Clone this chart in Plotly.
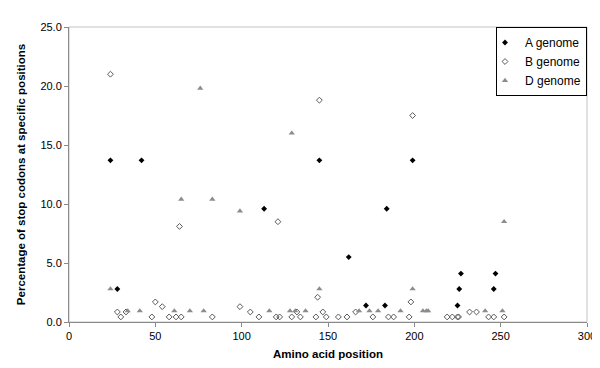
import plotly.graph_objects as go

# A genome
a_x = [24, 28, 42, 113, 145, 162, 172, 183, 184, 199, 225, 226, 227, 246, 247]
a_y = [13.7, 2.8, 13.7, 9.6, 13.7, 5.5, 1.4, 1.4, 9.6, 13.7, 1.4, 2.8, 4.1, 2.8, 4.1]

# B genome
b_x = [24, 28, 30, 33, 48, 50, 54, 58, 62, 64, 65, 83, 99, 105, 110, 120, 121, 122,
       129, 132, 134, 143, 144, 145, 147, 149, 156, 161, 166, 176, 185, 188, 197, 198,
       199, 219, 222, 225, 225.6, 232, 236, 243, 246, 252]
b_y = [21.0, 0.85, 0.43, 0.85, 0.43, 1.7, 1.3, 0.43, 0.43, 8.1, 0.43, 0.43, 1.3, 0.85,
       0.43, 0.43, 8.5, 0.43, 0.43, 0.85, 0.43, 0.43, 2.1, 18.8, 0.85, 0.43, 0.43, 0.43,
       0.85, 0.43, 0.43, 0.43, 0.43, 1.7, 17.5, 0.43, 0.43, 0.43, 0.43, 0.85, 0.85, 0.43,
       0.43, 0.43]

# D genome
d_x = [24, 34, 41, 61, 65, 70, 76, 78, 83, 99, 116, 128, 129, 131, 137, 145, 168, 174,
       179, 192, 199, 205, 207, 208, 241, 251, 252]
d_y = [2.8, 0.94, 0.94, 0.94, 10.4, 0.94, 19.8, 0.94, 10.4, 9.4, 0.94, 0.94, 16.0, 0.94,
       0.94, 2.8, 0.94, 0.94, 0.94, 0.94, 2.8, 0.94, 0.94, 0.94, 0.94, 0.94, 8.5]

x_ticks = [0, 50, 100, 150, 200, 250, 300]
y_ticks = [0, 5, 10, 15, 20, 25]

FONT = "Arial, Liberation Sans, sans-serif"

fig = go.Figure()
fig.add_trace(go.Scatter(x=a_x, y=a_y, mode="markers", name="A genome",
                         marker=dict(symbol="diamond", size=4.5, color="black")))
fig.add_trace(go.Scatter(x=b_x, y=b_y, mode="markers", name="B genome",
                         marker=dict(symbol="diamond-open", size=4.5, color="#5a5a5a",
                                     line=dict(width=1))))
fig.add_trace(go.Scatter(x=d_x, y=d_y, mode="markers", name="D genome",
                         marker=dict(symbol="triangle-up", size=5.5, color="#8c8c8c")))

fig.update_layout(
    width=600, height=368,
    margin=dict(l=60, r=14, t=19, b=54),
    paper_bgcolor="white", plot_bgcolor="white",
    font=dict(family=FONT, size=11, color="black"),
    showlegend=True,
    legend=dict(x=1, y=1, xanchor="right", yanchor="top",
                bordercolor="black", borderwidth=1, bgcolor="white",
                font=dict(size=12), itemwidth=30, tracegroupgap=0,
                itemsizing="trace", indentation=-12),
    shapes=[dict(type="rect", xref="paper", yref="paper", x0=0, y0=0, x1=1, y1=1,
                 line=dict(color="#c4c4c4", width=1), layer="below")],
)
fig.update_xaxes(range=[0, 300], tickvals=x_ticks, showgrid=False, zeroline=False,
                 showline=True, linecolor="#8a8a8a", linewidth=1,
                 ticks="outside", ticklen=4, tickcolor="#8a8a8a",
                 title=dict(text="<b>Amino acid position</b>", standoff=8,
                            font=dict(size=11.5)))
fig.update_yaxes(range=[0, 25], tickvals=y_ticks, tickformat=".1f", showgrid=False,
                 zeroline=False, showline=True, linecolor="#8a8a8a", linewidth=1,
                 ticks="outside", ticklen=4, tickcolor="#8a8a8a",
                 title=dict(text="<b>Percentage of stop codons at specific positions</b>",
                            standoff=12, font=dict(size=11.5)))

fig.write_html("out.html")
